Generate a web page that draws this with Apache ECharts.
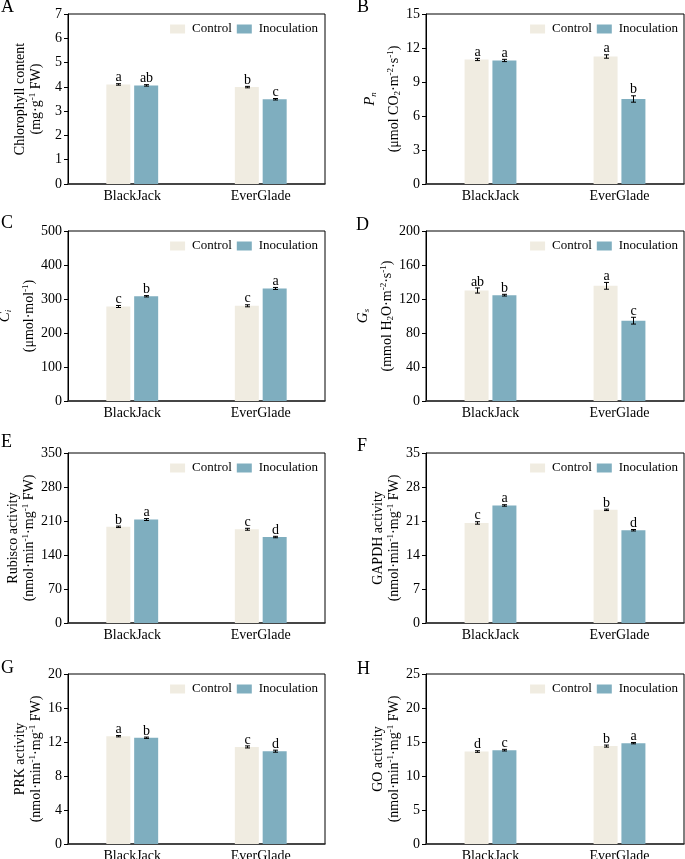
<!DOCTYPE html>
<html>
<head>
<meta charset="utf-8">
<title>Photosynthesis panels</title>
<script src="https://cdn.jsdelivr.net/npm/echarts@6/dist/echarts.min.js"></script>
<style>
    html, body { margin: 0; padding: 0; background: #fff; }
    #chart { width: 685px; height: 859px; }
</style>
</head>
<body>
<div id="chart"></div>
<script>
    var categories = ['BlackJack', 'EverGlade'];
    var seriesNames = ['Control', 'Inoculation'];

    // A chlorophyll
    var chlControl = [4.10, 3.99];
    var chlInoc = [4.06, 3.49];
    var chlControlErr = [0.03, 0.03];
    var chlInocErr = [0.03, 0.03];
    var chlControlSig = ['a', 'b'];
    var chlInocSig = ['ab', 'c'];

    // B Pn
    var pnControl = [10.99, 11.25];
    var pnInoc = [10.90, 7.50];
    var pnControlErr = [0.10, 0.15];
    var pnInocErr = [0.10, 0.28];
    var pnControlSig = ['a', 'a'];
    var pnInocSig = ['a', 'b'];

    // C Ci
    var ciControl = [278, 280];
    var ciInoc = [308, 331];
    var ciControlErr = [3, 3];
    var ciInocErr = [2, 3];
    var ciControlSig = ['c', 'c'];
    var ciInocSig = ['b', 'a'];

    // D Gs
    var gsControl = [130, 135.5];
    var gsInoc = [124.5, 94.5];
    var gsControlErr = [3, 4];
    var gsInocErr = [1, 4];
    var gsControlSig = ['ab', 'a'];
    var gsInocSig = ['b', 'c'];

    // E Rubisco
    var rubControl = [198, 193];
    var rubInoc = [213, 177];
    var rubControlErr = [1.5, 2];
    var rubInocErr = [2, 1.5];
    var rubControlSig = ['b', 'c'];
    var rubInocSig = ['a', 'd'];

    // F GAPDH
    var gapControl = [20.6, 23.3];
    var gapInoc = [24.2, 19.1];
    var gapControlErr = [0.25, 0.15];
    var gapInocErr = [0.15, 0.15];
    var gapControlSig = ['c', 'b'];
    var gapInocSig = ['a', 'd'];

    // G PRK
    var prkControl = [12.68, 11.42];
    var prkInoc = [12.50, 10.92];
    var prkControlErr = [0.08, 0.12];
    var prkInocErr = [0.08, 0.12];
    var prkControlSig = ['a', 'c'];
    var prkInocSig = ['b', 'd'];

    // H GO
    var goControl = [13.6, 14.4];
    var goInoc = [13.8, 14.83];
    var goControlErr = [0.12, 0.15];
    var goInocErr = [0.12, 0.1];
    var goControlSig = ['d', 'b'];
    var goInocSig = ['c', 'a'];

    var yMax = [7, 15, 500, 200, 350, 35, 20, 25];
    var yStep = [1, 3, 100, 40, 70, 7, 4, 5];
    var panelLetters = ['A', 'B', 'C', 'D', 'E', 'F', 'G', 'H'];

    var activityUnit = '{t|(nmol·min}{sup|-1}{t|·mg}{sup|-1}{t| FW)}';
    var yTitles = [
        '{t|Chlorophyll content}\n{t|(mg·g}{sup|-1}{t| FW)}',
        '{it|P}{isub|n}\n{gap| }\n{t|(μmol CO}{sub|2}{t|·m}{sup|-2}{t|·s}{sup|-1}{t|)}',
        '{it|C}{isub|i}\n{gap| }\n{t|(μmol·mol}{sup|-1}{t|)}',
        '{it|G}{isub|s}\n{gap| }\n{t|(mmol H}{sub|2}{t|O·m}{sup|-2}{t|·s}{sup|-1}{t|)}',
        '{t|Rubisco activity}\n' + activityUnit,
        '{t|GAPDH activity}\n' + activityUnit,
        '{t|PRK activity}\n' + activityUnit,
        '{t|GO activity}\n' + activityUnit
    ];

    var controlData = [chlControl, pnControl, ciControl, gsControl, rubControl, gapControl, prkControl, goControl];
    var inocData = [chlInoc, pnInoc, ciInoc, gsInoc, rubInoc, gapInoc, prkInoc, goInoc];
    var controlErr = [chlControlErr, pnControlErr, ciControlErr, gsControlErr, rubControlErr, gapControlErr, prkControlErr, goControlErr];
    var inocErr = [chlInocErr, pnInocErr, ciInocErr, gsInocErr, rubInocErr, gapInocErr, prkInocErr, goInocErr];
    var controlSig = [chlControlSig, pnControlSig, ciControlSig, gsControlSig, rubControlSig, gapControlSig, prkControlSig, goControlSig];
    var inocSig = [chlInocSig, pnInocSig, ciInocSig, gsInocSig, rubInocSig, gapInocSig, prkInocSig, goInocSig];

    // layout
    var FONT = '"Liberation Serif", "Times New Roman", serif';
    var colLeft = [68, 426];
    var colRight = [360, 1];
    var rowTop = [14, 231, 453, 674];
    var plotHeight = 170;
    var BAR_W = 24;
    var BAR_OFF = 13.9;
    var colorControl = '#F0ECE1';
    var colorInoc = '#7FAEBF';

    var letterPos = [[1, -2], [357, -2], [1, 214], [356, 216], [1, 433], [357, 437], [1, 659], [357, 660]];

    function makeErrRender(sigs) {
        return function (params, api) {
            var cat = api.value(0);
            var mean = api.value(1);
            var err = api.value(2);
            var side = api.value(3);
            var hi = api.coord([cat, mean + err]);
            var lo = api.coord([cat, mean - err]);
            var x = Math.round(hi[0] + side * BAR_OFF) + 0.5;
            var cap = 2.5;
            var lineStyle = { stroke: '#000', lineWidth: 1 };
            return {
                type: 'group',
                children: [
                    { type: 'line', shape: { x1: x, y1: hi[1], x2: x, y2: lo[1] }, style: lineStyle },
                    { type: 'line', shape: { x1: x - cap, y1: hi[1], x2: x + cap, y2: hi[1] }, style: lineStyle },
                    { type: 'line', shape: { x1: x - cap, y1: lo[1], x2: x + cap, y2: lo[1] }, style: lineStyle },
                    {
                        type: 'text',
                        style: {
                            text: sigs[params.dataIndex],
                            x: x,
                            y: hi[1] + 1,
                            align: 'center',
                            verticalAlign: 'bottom',
                            fontFamily: FONT,
                            fontSize: 14,
                            fill: '#000'
                        }
                    }
                ]
            };
        };
    }

    var grids = [], xAxes = [], yAxes = [], legends = [], series = [], graphics = [];

    for (var i = 0; i < 8; i++) {
        var col = i % 2;
        var row = Math.floor(i / 2);
        var plotTop = rowTop[row];

        grids.push({
            left: colLeft[col],
            right: colRight[col],
            top: plotTop,
            height: plotHeight,
            outerBoundsMode: 'none',
            containLabel: false,
            show: true,
            borderColor: '#000',
            borderWidth: 1,
            backgroundColor: 'transparent'
        });

        xAxes.push({
            type: 'category',
            gridIndex: i,
            data: categories,
            axisLine: { lineStyle: { color: '#333', width: 1.6 } },
            axisTick: { length: 3, lineStyle: { color: '#333' } },
            axisLabel: { color: '#000', fontFamily: FONT, fontSize: 14, margin: 5 }
        });

        yAxes.push({
            type: 'value',
            gridIndex: i,
            min: 0,
            max: yMax[i],
            interval: yStep[i],
            splitLine: { show: false },
            axisLine: { show: true, lineStyle: { color: '#000', width: 1 } },
            axisTick: { show: true, length: 4, lineStyle: { color: '#000' } },
            axisLabel: { color: '#000', fontFamily: FONT, fontSize: 14, margin: 6 },
            name: yTitles[i],
            nameLocation: 'middle',
            nameRotate: 90,
            nameGap: 24,
            nameTextStyle: {
                color: '#000',
                fontFamily: FONT,
                fontSize: 14,
                lineHeight: 16,
                rich: {
                    t: { fontFamily: FONT, fontSize: 14, lineHeight: 16, color: '#000' },
                    gap: { fontFamily: FONT, fontSize: 6, lineHeight: 8, color: '#000' },
                    it: { fontFamily: FONT, fontSize: 15, lineHeight: 16, fontStyle: 'italic', color: '#000' },
                    isub: { fontFamily: FONT, fontSize: 9, lineHeight: 6, fontStyle: 'italic', verticalAlign: 'bottom', color: '#000' },
                    sub: { fontFamily: FONT, fontSize: 9, lineHeight: 6, verticalAlign: 'bottom', color: '#000' },
                    sup: { fontFamily: FONT, fontSize: 9, lineHeight: 6, verticalAlign: 'top', color: '#000' }
                }
            }
        });

        legends.push({
            data: seriesNames,
            top: plotTop + 8,
            right: col === 0 ? 367 : 7,
            padding: 0,
            itemWidth: 15,
            itemHeight: 9,
            itemGap: 5,
            icon: 'rect',
            selectedMode: false,
            textStyle: { color: '#000', fontFamily: FONT, fontSize: 13, lineHeight: 14, padding: [0, 0, 0, 2] }
        });

        series.push({
            name: seriesNames[0],
            type: 'bar',
            xAxisIndex: i,
            yAxisIndex: i,
            data: controlData[i],
            barWidth: BAR_W,
            barGap: '16%',
            itemStyle: { color: colorControl }
        });
        series.push({
            name: seriesNames[1],
            type: 'bar',
            xAxisIndex: i,
            yAxisIndex: i,
            data: inocData[i],
            barWidth: BAR_W,
            barGap: '16%',
            itemStyle: { color: colorInoc }
        });

        var errRows = [];
        var sigs = [];
        for (var c = 0; c < categories.length; c++) {
            errRows.push([c, controlData[i][c], controlErr[i][c], -1]);
            sigs.push(controlSig[i][c]);
            errRows.push([c, inocData[i][c], inocErr[i][c], 1]);
            sigs.push(inocSig[i][c]);
        }
        series.push({
            name: 'err' + i,
            type: 'custom',
            xAxisIndex: i,
            yAxisIndex: i,
            clip: false,
            z: 5,
            encode: { x: 0, y: 1 },
            data: errRows,
            renderItem: makeErrRender(sigs)
        });

        graphics.push({
            type: 'text',
            left: letterPos[i][0],
            top: letterPos[i][1],
            style: { text: panelLetters[i], fontFamily: FONT, fontSize: 18, fill: '#000' }
        });
    }

    var option = {
        animation: false,
        backgroundColor: '#fff',
        grid: grids,
        xAxis: xAxes,
        yAxis: yAxes,
        legend: legends,
        graphic: graphics,
        series: series
    };

    var myChart = echarts.init(document.getElementById('chart'), null, { renderer: 'canvas' });
    myChart.setOption(option);
</script>
</body>
</html>
